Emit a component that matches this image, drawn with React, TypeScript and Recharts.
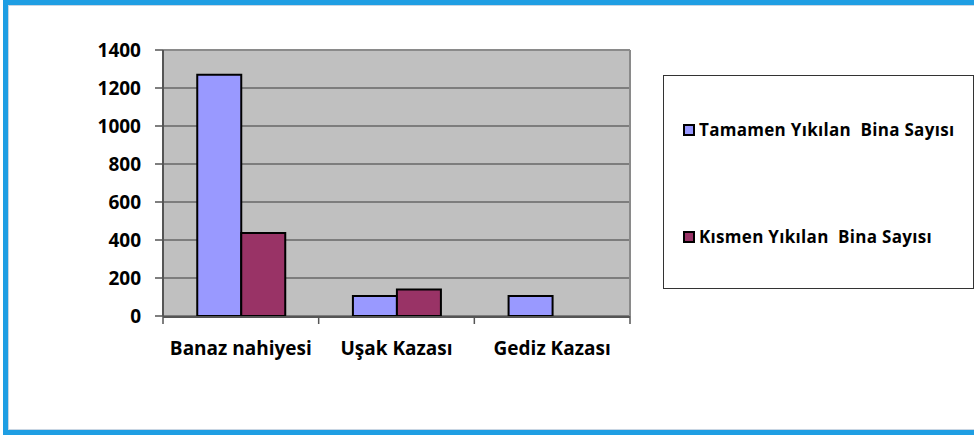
import {
  BarChart,
  Bar,
  XAxis,
  YAxis,
  CartesianGrid,
  Legend,
  ReferenceLine,
} from 'recharts'

const categories = ['Banaz nahiyesi', 'Uşak Kazası', 'Gediz Kazası']
const tamamen = [1270, 105, 105]
const kismen = [437, 140, 0]
const yTicks = [0, 200, 400, 600, 800, 1000, 1200, 1400]
const seriesNames = ['Tamamen Yıkılan  Bina Sayısı', 'Kısmen Yıkılan  Bina Sayısı']
const seriesColors = ['#9999ff', '#993366']

const data = categories.map((c, i) => ({
  name: c,
  idx: i + 0.5,
  tamamen: tamamen[i],
  kismen: kismen[i],
}))

const font = '"Open Sans", Lato, sans-serif'

function LegendBox() {
  return (
    <div
      style={{
        width: 309,
        height: 212,
        border: '1px solid #333',
        background: '#fff',
        position: 'relative',
        fontFamily: font,
        fontWeight: 700,
        fontSize: 17,
        letterSpacing: 0.3,
        color: '#000',
      }}
    >
      {seriesNames.map((n, i) => (
        <div
          key={n}
          style={{
            position: 'absolute',
            left: 19,
            top: i === 0 ? 42 : 149,
            display: 'flex',
            alignItems: 'center',
            whiteSpace: 'pre',
          }}
        >
          <span
            style={{
              width: 8,
              height: 8,
              border: '2px solid #000',
              background: seriesColors[i],
              marginRight: 4,
              display: 'inline-block',
            }}
          />
          {n}
        </div>
      ))}
    </div>
  )
}

export default function App() {
  return (
    <div style={{ position: 'relative', width: 974, height: 435, overflow: 'hidden', background: '#fff' }}>
      <style>{'body{margin:0}'}</style>
      <div
        style={{
          position: 'absolute',
          left: 3,
          top: 0,
          width: 990,
          height: 425,
          border: '5px solid #1f9ee3',
          boxShadow: 'inset 1px 1px 0 #c9d6e3, inset -1px -1px 0 #c9d6e3',
        }}
      />
      <div style={{ position: 'absolute', left: 0, top: 0 }}>
        <BarChart
          width={974}
          height={435}
          data={data}
          margin={{ top: 50, right: 344, left: 103, bottom: 88 }}
          barCategoryGap="22%"
          barGap={0}
        >
          <CartesianGrid
            xAxisId="cat"
            vertical={false}
            fill="#c0c0c0"
            stroke="#3a3a3a"
            strokeOpacity={1}
          />
          <XAxis
            xAxisId="bnd"
            type="number"
            dataKey="idx"
            domain={[0, 3]}
            ticks={[0, 1, 2, 3]}
            interval={0}
            tick={() => <g />}
            height={1}
            axisLine={false}
            tickSize={8}
            tickLine={{ stroke: '#555', strokeWidth: 1.5 }}
          />
          <XAxis
            xAxisId="cat"
            dataKey="name"
            height={30}
            tickLine={false}
            tickSize={8}
            tickMargin={17}
            axisLine={{ stroke: '#555', strokeWidth: 2 }}
            tick={{ fill: '#000', fontSize: 19, fontWeight: 700, fontFamily: font }}
            interval={0}
          />
          <YAxis
            domain={[0, 1400]}
            ticks={yTicks}
            interval={0}
            width={60}
            tickSize={8}
            tickMargin={14}
            axisLine={{ stroke: '#555', strokeWidth: 2 }}
            tickLine={{ stroke: '#555', strokeWidth: 1.5 }}
            tick={{ fill: '#000', fontSize: 19, fontWeight: 700, fontFamily: font }}
          />
          <ReferenceLine xAxisId="cat" y={1400} stroke="#8a8a8a" strokeWidth={2} />
          <ReferenceLine xAxisId="bnd" x={3} stroke="#8a8a8a" strokeWidth={2} />
          <Legend
            layout="horizontal"
            verticalAlign="middle"
            align="center"
            content={() => <LegendBox />}
            wrapperStyle={{ left: 663, top: 75, width: 311, height: 214 }}
          />
          <Bar
            xAxisId="cat"
            dataKey="tamamen"
            name={seriesNames[0]}
            fill={seriesColors[0]}
            stroke="#000"
            strokeWidth={2}
            isAnimationActive={false}
          />
          <Bar
            xAxisId="cat"
            dataKey="kismen"
            name={seriesNames[1]}
            fill={seriesColors[1]}
            stroke="#000"
            strokeWidth={2}
            isAnimationActive={false}
          />
        </BarChart>
      </div>
    </div>
  )
}
